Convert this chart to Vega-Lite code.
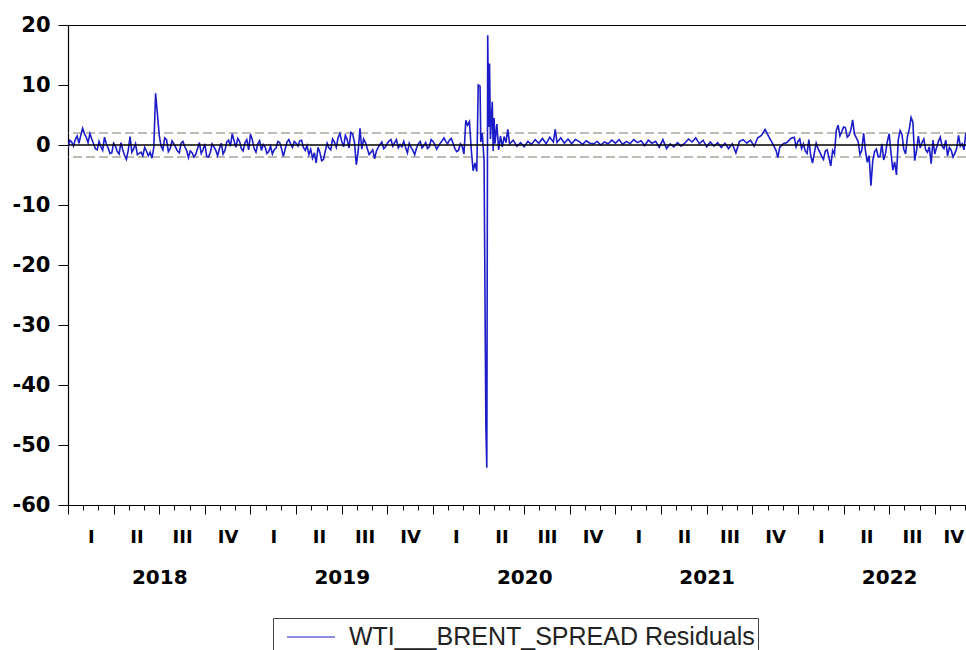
{
  "$schema": "https://vega.github.io/schema/vega-lite/v6.json",
  "autosize": {"type": "none"},
  "padding": {"left": 68, "top": 25, "right": 0, "bottom": 145},
  "width": 898,
  "height": 480,
  "background": "white",
  "config": {"view": {"stroke": null}, "axis": {"grid": false, "title": null}},
  "data": {"values": [
    {"t":2018.00,"v":-0.4},{"t":2018.02,"v":0.5},{"t":2018.04,"v":0.9},{"t":2018.06,"v":0.3},{"t":2018.08,"v":2.8},
    {"t":2018.10,"v":1.3},{"t":2018.12,"v":1.9},{"t":2018.14,"v":0.2},{"t":2018.16,"v":-0.8},{"t":2018.18,"v":-0.3},
    {"t":2018.20,"v":1.3},{"t":2018.22,"v":-0.5},{"t":2018.24,"v":-1.3},{"t":2018.26,"v":-0.2},{"t":2018.28,"v":-1.5},
    {"t":2018.30,"v":-0.8},{"t":2018.32,"v":-2.4},{"t":2018.34,"v":1.4},{"t":2018.36,"v":-0.6},{"t":2018.38,"v":-1.6},
    {"t":2018.40,"v":-1.2},{"t":2018.42,"v":-0.4},{"t":2018.44,"v":-1.8},{"t":2018.46,"v":-2.2},{"t":2018.47,"v":-0.5},
    {"t":2018.48,"v":8.6},{"t":2018.49,"v":5.2},{"t":2018.50,"v":1.6},{"t":2018.52,"v":-0.8},{"t":2018.54,"v":0.9},
    {"t":2018.56,"v":-0.6},{"t":2018.58,"v":0.2},{"t":2018.60,"v":-1.0},{"t":2018.62,"v":0.3},{"t":2018.64,"v":-0.3},
    {"t":2018.66,"v":-2.1},{"t":2018.68,"v":-1.3},{"t":2018.70,"v":-1.6},{"t":2018.72,"v":0.4},{"t":2018.74,"v":-0.8},
    {"t":2018.76,"v":-1.9},{"t":2018.78,"v":-1.2},{"t":2018.80,"v":-0.3},{"t":2018.82,"v":-1.8},{"t":2018.84,"v":0.3},
    {"t":2018.86,"v":-0.9},{"t":2018.88,"v":0.8},{"t":2018.90,"v":1.9},{"t":2018.92,"v":-0.4},{"t":2018.94,"v":0.6},
    {"t":2018.96,"v":-1.0},{"t":2018.98,"v":0.9},{"t":2019.00,"v":1.8},{"t":2019.02,"v":-0.6},{"t":2019.04,"v":0.2},
    {"t":2019.06,"v":-0.9},{"t":2019.08,"v":-0.3},{"t":2019.10,"v":-1.1},{"t":2019.12,"v":-1.5},{"t":2019.14,"v":-0.5},
    {"t":2019.16,"v":0.4},{"t":2019.18,"v":-1.9},{"t":2019.20,"v":0.5},{"t":2019.22,"v":0.2},{"t":2019.24,"v":0.6},
    {"t":2019.26,"v":-0.2},{"t":2019.28,"v":0.8},{"t":2019.30,"v":-0.9},{"t":2019.32,"v":-1.6},{"t":2019.34,"v":-2.2},
    {"t":2019.36,"v":-3.0},{"t":2019.38,"v":-1.2},{"t":2019.40,"v":-2.4},{"t":2019.42,"v":0.3},{"t":2019.44,"v":-0.8},
    {"t":2019.46,"v":0.5},{"t":2019.48,"v":1.2},{"t":2019.50,"v":0.6},{"t":2019.52,"v":1.6},{"t":2019.54,"v":-0.5},
    {"t":2019.56,"v":1.8},{"t":2019.58,"v":-3.3},{"t":2019.60,"v":2.8},{"t":2019.62,"v":1.0},{"t":2019.64,"v":-0.6},
    {"t":2019.66,"v":-1.2},{"t":2019.68,"v":-2.3},{"t":2019.70,"v":-0.4},{"t":2019.72,"v":0.5},{"t":2019.74,"v":-0.3},
    {"t":2019.76,"v":0.7},{"t":2019.78,"v":-0.2},{"t":2019.80,"v":0.9},{"t":2019.82,"v":0.1},{"t":2019.84,"v":0.6},
    {"t":2019.86,"v":-1.3},{"t":2019.88,"v":-0.4},{"t":2019.90,"v":-1.6},{"t":2019.92,"v":0.2},{"t":2019.94,"v":-0.5},
    {"t":2019.96,"v":0.4},{"t":2019.98,"v":-0.3},{"t":2020.00,"v":0.6},{"t":2020.02,"v":-0.7},{"t":2020.04,"v":0.3},
    {"t":2020.06,"v":1.2},{"t":2020.08,"v":0.2},{"t":2020.10,"v":1.1},{"t":2020.12,"v":-0.6},{"t":2020.14,"v":-0.9},
    {"t":2020.16,"v":-0.2},{"t":2020.17,"v":-1.5},{"t":2020.18,"v":4.1},{"t":2020.19,"v":3.3},{"t":2020.20,"v":3.9},
    {"t":2020.21,"v":-0.8},{"t":2020.22,"v":-4.3},{"t":2020.23,"v":-3.0},{"t":2020.24,"v":-4.4},{"t":2020.248,"v":10.0},
    {"t":2020.258,"v":9.8},{"t":2020.262,"v":0.5},{"t":2020.27,"v":2.0},{"t":2020.28,"v":-2.5},{"t":2020.29,"v":-47.0},
    {"t":2020.295,"v":-53.8},{"t":2020.30,"v":18.3},{"t":2020.305,"v":3.0},{"t":2020.31,"v":13.6},{"t":2020.315,"v":1.0},
    {"t":2020.32,"v":4.2},{"t":2020.325,"v":7.2},{"t":2020.33,"v":-1.0},{"t":2020.335,"v":4.5},{"t":2020.34,"v":0.2},
    {"t":2020.35,"v":3.5},{"t":2020.36,"v":-0.8},{"t":2020.37,"v":1.5},{"t":2020.38,"v":-0.3},{"t":2020.39,"v":1.4},
    {"t":2020.40,"v":0.4},{"t":2020.41,"v":2.6},{"t":2020.42,"v":0.2},{"t":2020.44,"v":0.8},{"t":2020.46,"v":-0.2},
    {"t":2020.48,"v":0.4},{"t":2020.50,"v":-0.3},{"t":2020.52,"v":0.6},{"t":2020.54,"v":0.1},{"t":2020.56,"v":0.9},
    {"t":2020.58,"v":0.3},{"t":2020.60,"v":1.1},{"t":2020.62,"v":0.2},{"t":2020.64,"v":1.3},{"t":2020.66,"v":0.5},
    {"t":2020.67,"v":2.6},{"t":2020.68,"v":0.4},{"t":2020.70,"v":1.2},{"t":2020.72,"v":0.3},{"t":2020.74,"v":1.0},
    {"t":2020.76,"v":0.2},{"t":2020.78,"v":0.9},{"t":2020.80,"v":0.6},{"t":2020.82,"v":0.1},{"t":2020.84,"v":0.7},
    {"t":2020.86,"v":0.3},{"t":2020.88,"v":0.2},{"t":2020.90,"v":0.6},{"t":2020.92,"v":0.0},{"t":2020.94,"v":0.5},
    {"t":2020.96,"v":0.2},{"t":2020.98,"v":0.8},{"t":2021.00,"v":0.3},{"t":2021.02,"v":0.9},{"t":2021.04,"v":0.1},
    {"t":2021.06,"v":0.6},{"t":2021.08,"v":0.2},{"t":2021.10,"v":0.9},{"t":2021.12,"v":0.4},{"t":2021.14,"v":0.7},
    {"t":2021.16,"v":-0.1},{"t":2021.18,"v":0.8},{"t":2021.20,"v":0.3},{"t":2021.22,"v":0.6},{"t":2021.24,"v":-0.4},
    {"t":2021.26,"v":0.9},{"t":2021.28,"v":-0.6},{"t":2021.30,"v":0.2},{"t":2021.32,"v":-0.3},{"t":2021.34,"v":0.4},
    {"t":2021.36,"v":-0.2},{"t":2021.38,"v":0.3},{"t":2021.40,"v":1.0},{"t":2021.42,"v":0.5},{"t":2021.44,"v":1.2},
    {"t":2021.46,"v":0.2},{"t":2021.48,"v":0.8},{"t":2021.50,"v":-0.3},{"t":2021.52,"v":0.5},{"t":2021.54,"v":-0.2},
    {"t":2021.56,"v":0.4},{"t":2021.58,"v":-0.4},{"t":2021.60,"v":0.3},{"t":2021.62,"v":-0.6},{"t":2021.64,"v":0.2},
    {"t":2021.66,"v":-1.3},{"t":2021.68,"v":0.6},{"t":2021.70,"v":0.9},{"t":2021.72,"v":0.3},{"t":2021.74,"v":0.8},
    {"t":2021.76,"v":-0.2},{"t":2021.78,"v":1.2},{"t":2021.80,"v":1.6},{"t":2021.82,"v":2.6},{"t":2021.84,"v":1.4},
    {"t":2021.86,"v":0.3},{"t":2021.88,"v":-0.9},{"t":2021.89,"v":-2.1},{"t":2021.90,"v":-0.4},{"t":2021.92,"v":0.2},
    {"t":2021.94,"v":0.4},{"t":2021.96,"v":1.1},{"t":2021.98,"v":1.3},{"t":2022.00,"v":0.6},{"t":2022.02,"v":-0.6},
    {"t":2022.04,"v":-1.0},{"t":2022.06,"v":0.9},{"t":2022.08,"v":-3.0},{"t":2022.10,"v":0.3},{"t":2022.12,"v":-1.2},
    {"t":2022.14,"v":-2.4},{"t":2022.16,"v":-0.8},{"t":2022.18,"v":-3.5},{"t":2022.20,"v":-1.5},{"t":2022.22,"v":3.3},
    {"t":2022.24,"v":2.2},{"t":2022.26,"v":2.9},{"t":2022.28,"v":1.6},{"t":2022.30,"v":4.2},{"t":2022.32,"v":1.2},
    {"t":2022.34,"v":-1.6},{"t":2022.36,"v":2.0},{"t":2022.38,"v":-2.9},{"t":2022.40,"v":-6.8},{"t":2022.42,"v":-1.1},
    {"t":2022.44,"v":-2.0},{"t":2022.46,"v":0.2},{"t":2022.48,"v":-1.4},{"t":2022.50,"v":1.9},{"t":2022.52,"v":-4.2},
    {"t":2022.54,"v":-5.0},{"t":2022.56,"v":2.4},{"t":2022.58,"v":-0.7},{"t":2022.60,"v":1.4},{"t":2022.62,"v":4.6},
    {"t":2022.63,"v":3.8},{"t":2022.64,"v":-2.6},{"t":2022.66,"v":1.5},{"t":2022.68,"v":0.4},{"t":2022.70,"v":-0.8},
    {"t":2022.72,"v":-0.3},{"t":2022.73,"v":-3.1},{"t":2022.74,"v":0.8},{"t":2022.76,"v":-0.4},{"t":2022.78,"v":1.3},
    {"t":2022.80,"v":-0.6},{"t":2022.82,"v":-1.8},{"t":2022.84,"v":-0.9},{"t":2022.86,"v":-1.4},{"t":2022.88,"v":1.6},
    {"t":2022.90,"v":0.2},{"t":2022.92,"v":2.0},{"t":2022.93,"v":1.2},
    {"t":2018.01,"v":0.8},{"t":2018.03,"v":-0.2},{"t":2018.05,"v":1.5},{"t":2018.07,"v":1.6},{"t":2018.09,"v":1.9},
    {"t":2018.11,"v":0.4},{"t":2018.13,"v":1.0},{"t":2018.15,"v":-0.6},{"t":2018.17,"v":0.6},{"t":2018.19,"v":-0.9},
    {"t":2018.21,"v":0.2},{"t":2018.23,"v":-1.4},{"t":2018.25,"v":0.3},{"t":2018.27,"v":-1.1},{"t":2018.29,"v":0.4},
    {"t":2018.31,"v":-1.7},{"t":2018.33,"v":-0.9},{"t":2018.35,"v":-1.2},{"t":2018.37,"v":0.2},{"t":2018.39,"v":-1.4},
    {"t":2018.41,"v":-1.8},{"t":2018.43,"v":-1.0},{"t":2018.45,"v":-1.2},{"t":2018.51,"v":-0.2},{"t":2018.53,"v":1.2},
    {"t":2018.55,"v":-1.1},{"t":2018.57,"v":0.7},{"t":2018.59,"v":-0.4},{"t":2018.61,"v":-1.3},{"t":2018.63,"v":0.6},
    {"t":2018.65,"v":-0.9},{"t":2018.67,"v":-1.0},{"t":2018.69,"v":-2.0},{"t":2018.71,"v":-0.6},{"t":2018.73,"v":-1.4},
    {"t":2018.75,"v":0.2},{"t":2018.77,"v":-2.0},{"t":2018.79,"v":0.2},{"t":2018.81,"v":-0.9},{"t":2018.83,"v":-0.6},
    {"t":2018.85,"v":-1.5},{"t":2018.87,"v":0.5},{"t":2018.89,"v":-0.2},{"t":2018.91,"v":0.7},{"t":2018.93,"v":1.1},
    {"t":2018.95,"v":-0.6},{"t":2018.97,"v":0.4},{"t":2018.99,"v":-0.8},{"t":2019.01,"v":0.9},{"t":2019.03,"v":-1.2},
    {"t":2019.05,"v":0.7},{"t":2019.07,"v":0.1},{"t":2019.09,"v":-1.4},{"t":2019.11,"v":-0.2},{"t":2019.13,"v":-0.8},
    {"t":2019.15,"v":0.6},{"t":2019.17,"v":-0.6},{"t":2019.19,"v":-0.7},{"t":2019.21,"v":0.9},{"t":2019.23,"v":-0.4},
    {"t":2019.25,"v":0.3},{"t":2019.27,"v":0.7},{"t":2019.29,"v":-0.4},{"t":2019.31,"v":-0.1},{"t":2019.33,"v":-0.7},
    {"t":2019.35,"v":-1.3},{"t":2019.37,"v":-0.4},{"t":2019.39,"v":-2.6},{"t":2019.41,"v":-1.0},{"t":2019.43,"v":-0.5},
    {"t":2019.45,"v":1.0},{"t":2019.47,"v":-0.4},{"t":2019.49,"v":1.9},{"t":2019.51,"v":-0.3},{"t":2019.53,"v":0.9},
    {"t":2019.55,"v":2.1},{"t":2019.57,"v":0.4},{"t":2019.59,"v":-1.1},{"t":2019.61,"v":-0.7},{"t":2019.63,"v":0.4},
    {"t":2019.65,"v":-1.6},{"t":2019.67,"v":-0.8},{"t":2019.69,"v":-1.0},{"t":2019.71,"v":0.1},{"t":2019.73,"v":-0.6},
    {"t":2019.75,"v":0.3},{"t":2019.77,"v":0.9},{"t":2019.79,"v":0.4},{"t":2019.81,"v":-0.5},{"t":2019.83,"v":-0.3},
    {"t":2019.85,"v":-0.4},{"t":2019.87,"v":0.3},{"t":2019.89,"v":-0.9},{"t":2019.91,"v":-0.5},{"t":2019.93,"v":0.6},
    {"t":2019.95,"v":-0.1},{"t":2019.97,"v":-0.6},{"t":2019.99,"v":0.9},{"t":2020.01,"v":0.1},{"t":2020.03,"v":-0.2},
    {"t":2020.05,"v":0.7},{"t":2020.07,"v":0.6},{"t":2020.09,"v":0.8},{"t":2020.11,"v":0.3},{"t":2020.13,"v":-1.1},
    {"t":2020.15,"v":0.2},
    {"t":2021.99,"v":-0.3},{"t":2022.01,"v":1.0},{"t":2022.03,"v":0.2},{"t":2022.05,"v":-1.4},{"t":2022.07,"v":-1.8},
    {"t":2022.09,"v":-1.3},{"t":2022.11,"v":-0.6},{"t":2022.13,"v":-1.9},{"t":2022.15,"v":-1.0},{"t":2022.17,"v":-2.1},
    {"t":2022.19,"v":-0.9},{"t":2022.21,"v":2.4},{"t":2022.23,"v":1.5},{"t":2022.25,"v":3.0},{"t":2022.27,"v":1.3},
    {"t":2022.29,"v":2.5},{"t":2022.31,"v":1.8},{"t":2022.33,"v":0.6},{"t":2022.35,"v":-0.9},{"t":2022.37,"v":-1.0},
    {"t":2022.39,"v":-1.8},{"t":2022.41,"v":-2.6},{"t":2022.43,"v":-0.7},{"t":2022.45,"v":-1.9},{"t":2022.47,"v":-2.5},
    {"t":2022.49,"v":0.6},{"t":2022.51,"v":-1.3},{"t":2022.53,"v":-2.8},{"t":2022.55,"v":0.9},{"t":2022.57,"v":1.8},
    {"t":2022.59,"v":-1.5},{"t":2022.61,"v":2.6},{"t":2022.65,"v":-0.9},{"t":2022.67,"v":-0.5},{"t":2022.69,"v":1.0},
    {"t":2022.71,"v":-1.2},{"t":2022.75,"v":-1.5},{"t":2022.77,"v":0.6},{"t":2022.79,"v":-0.2},{"t":2022.81,"v":0.8},
    {"t":2022.83,"v":-0.4},{"t":2022.85,"v":-2.0},{"t":2022.87,"v":-0.6},{"t":2022.89,"v":-0.2},{"t":2022.91,"v":-0.8}
  ]},
  "resolve": {"axis": {"x": "independent", "y": "independent"}},
  "layer": [
    {
      "data": {"values": [{"v": 2.0}, {"v": -2.0}]},
      "mark": {"type": "rule", "color": "#7a7a6a", "strokeWidth": 1, "strokeDash": [9, 4]},
      "encoding": {
        "y": {"field": "v", "type": "quantitative", "scale": {"domain": [-60, 20], "nice": false, "zero": false}, "axis": null}
      }
    },
    {
      "mark": {"type": "line", "clip": true, "strokeWidth": 1.6, "strokeJoin": "miter"},
      "encoding": {
        "x": {"field": "t", "type": "quantitative", "scale": {"domain": [2018, 2022.921], "nice": false, "zero": false},
          "axis": {"orient": "bottom", "labels": false, "domain": true, "domainColor": "black", "domainWidth": 1.2, "tickColor": "black", "tickSize": 5, "tickWidth": 1,
            "values": [2018,2018.0833,2018.1667,2018.25,2018.3333,2018.4167,2018.5,2018.5833,2018.6667,2018.75,2018.8333,2018.9167,
                       2019,2019.0833,2019.1667,2019.25,2019.3333,2019.4167,2019.5,2019.5833,2019.6667,2019.75,2019.8333,2019.9167,
                       2020,2020.0833,2020.1667,2020.25,2020.3333,2020.4167,2020.5,2020.5833,2020.6667,2020.75,2020.8333,2020.9167,
                       2021,2021.0833,2021.1667,2021.25,2021.3333,2021.4167,2021.5,2021.5833,2021.6667,2021.75,2021.8333,2021.9167,
                       2022,2022.0833,2022.1667,2022.25,2022.3333,2022.4167,2022.5,2022.5833,2022.6667,2022.75,2022.8333,2022.9167]}},
        "y": {"field": "v", "type": "quantitative", "scale": {"domain": [-60, 20], "nice": false, "zero": false},
          "axis": {"orient": "left", "values": [20, 10, 0, -10, -20, -30, -40, -50, -60], "tickSize": 10, "tickColor": "black", "domain": true, "domainColor": "black", "domainWidth": 1.2,
            "labelExpr": "'' + datum.value",
            "labelPadding": 8, "labelFont": "DejaVu Sans", "labelFontWeight": "bold", "labelFontSize": 21, "labelColor": "black", "labelBaseline": "middle", "labelFlush": false}},
        "color": {"datum": "WTI___BRENT_SPREAD Residuals", "type": "nominal", "scale": {"range": ["#1c1cc8"]},
          "legend": {"orient": "none", "legendX": 205, "legendY": 593, "title": null, "strokeColor": "#444444", "fillColor": "white", "padding": 3,
            "symbolType": "M-1.6,0H1.6", "symbolSize": 900, "symbolStrokeWidth": 1.2, "symbolStrokeColor": "#2a2a9a", "symbolOffset": 19, "labelOffset": 22,
            "labelFont": "Liberation Sans", "labelFontSize": 25, "labelColor": "#222222", "labelLimit": 600}}
      }
    },
    {
      "data": {"values": [{"v": 0}]},
      "mark": {"type": "rule", "color": "black", "strokeWidth": 1.3},
      "encoding": {
        "y": {"field": "v", "type": "quantitative", "scale": {"domain": [-60, 20], "nice": false, "zero": false}, "axis": null}
      }
    },
    {
      "data": {"values": [{"t": 2018}, {"t": 2022.9}]},
      "mark": {"type": "point", "opacity": 0},
      "encoding": {
        "x": {"field": "t", "type": "quantitative", "scale": {"domain": [2018, 2022.921], "nice": false, "zero": false},
          "axis": {"orient": "bottom", "labels": false, "domain": false, "tickColor": "black", "tickSize": 9, "tickWidth": 1,
            "values": [2018,2018.25,2018.5,2018.75,2019,2019.25,2019.5,2019.75,2020,2020.25,2020.5,2020.75,2021,2021.25,2021.5,2021.75,2022,2022.25,2022.5,2022.75]}}
      }
    },
    {
      "data": {"values": [{"t": 2018}, {"t": 2022.9}]},
      "mark": {"type": "point", "opacity": 0},
      "encoding": {
        "x": {"field": "t", "type": "quantitative", "scale": {"domain": [2018, 2022.921], "nice": false, "zero": false},
          "axis": {"orient": "bottom", "ticks": false, "tickSize": 0, "domain": false, "labelPadding": 32, "labelBaseline": "middle",
            "labelFont": "DejaVu Sans", "labelFontWeight": "bold", "labelFontSize": 18, "labelColor": "black",
            "labelFlush": 12, "labelFlushOffset": 6, "labelOverlap": false, "labelBound": false,
            "labelExpr": "(datum.value - floor(datum.value)) < 0.25 ? 'I' : ((datum.value - floor(datum.value)) < 0.5 ? 'II' : ((datum.value - floor(datum.value)) < 0.75 ? 'III' : 'IV'))",
            "values": [2018.125,2018.375,2018.625,2018.875,2019.125,2019.375,2019.625,2019.875,2020.125,2020.375,2020.625,2020.875,2021.125,2021.375,2021.625,2021.875,2022.125,2022.375,2022.625,2022.875]}}
      }
    },
    {
      "data": {"values": [{"t": 2018}, {"t": 2022.9}]},
      "mark": {"type": "point", "opacity": 0},
      "encoding": {
        "x": {"field": "t", "type": "quantitative", "scale": {"domain": [2018, 2022.921], "nice": false, "zero": false},
          "axis": {"orient": "bottom", "ticks": false, "tickSize": 0, "domain": false, "labelPadding": 72, "labelBaseline": "middle",
            "labelFont": "DejaVu Sans", "labelFontWeight": "bold", "labelFontSize": 20, "labelColor": "black",
            "labelFlush": false, "labelOverlap": false,
            "labelExpr": "'' + floor(datum.value)",
            "values": [2018.5, 2019.5, 2020.5, 2021.5, 2022.5]}}
      }
    },
    {
      "data": {"values": [{"t": 2018}, {"t": 2022.9}]},
      "mark": {"type": "point", "opacity": 0},
      "encoding": {
        "x": {"field": "t", "type": "quantitative", "scale": {"domain": [2018, 2022.921], "nice": false, "zero": false},
          "axis": {"orient": "top", "ticks": false, "labels": false, "domain": true, "domainColor": "black", "domainWidth": 1.2, "values": []}}
      }
    }
  ]
}
